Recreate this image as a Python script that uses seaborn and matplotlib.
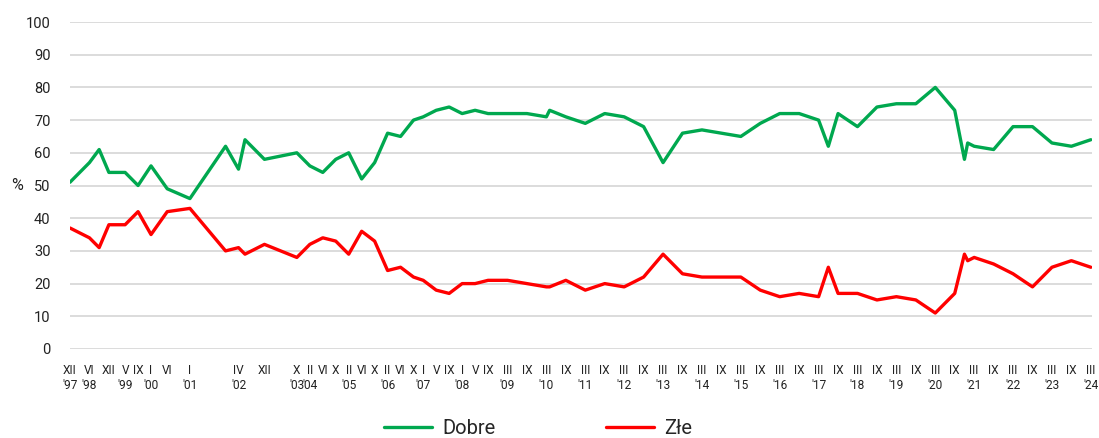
import numpy as np
import pandas as pd
import matplotlib
matplotlib.use("Agg")
import matplotlib.pyplot as plt
import seaborn as sns

# ---- data ----
survey_dates = [
    (1997, 12), (1998, 6), (1998, 9), (1998, 12), (1999, 5), (1999, 9), (2000, 1), (2000, 6),
    (2001, 1), (2001, 12), (2002, 4), (2002, 6), (2002, 12), (2003, 10), (2004, 2), (2004, 6),
    (2004, 10), (2005, 2), (2005, 6), (2005, 10), (2006, 2), (2006, 6), (2006, 10), (2007, 1),
    (2007, 5), (2007, 9), (2008, 1), (2008, 5), (2008, 9), (2009, 3), (2009, 9), (2010, 3),
    (2010, 4), (2010, 9), (2011, 3), (2011, 9), (2012, 3), (2012, 9), (2013, 3), (2013, 9),
    (2014, 3), (2014, 9), (2015, 3), (2015, 9), (2016, 3), (2016, 9), (2017, 3), (2017, 6),
    (2017, 9), (2018, 3), (2018, 9), (2019, 3), (2019, 9), (2020, 3), (2020, 9), (2020, 12),
    (2021, 1), (2021, 3), (2021, 9), (2022, 3), (2022, 9), (2023, 3), (2023, 9), (2024, 3),
]

dobre = [51, 57, 61, 54, 54, 50, 56, 49, 46, 62, 55, 64, 58, 60, 56, 54,
         58, 60, 52, 57, 66, 65, 70, 71, 73, 74, 72, 73, 72, 72, 72, 71,
         73, 71, 69, 72, 71, 68, 57, 66, 67, 66, 65, 69, 72, 72, 70, 62,
         72, 68, 74, 75, 75, 80, 73, 58, 63, 62, 61, 68, 68, 63, 62, 64]

zle = [37, 34, 31, 38, 38, 42, 35, 42, 43, 30, 31, 29, 32, 28, 32, 34,
       33, 29, 36, 33, 24, 25, 22, 21, 18, 17, 20, 20, 21, 21, 20, 19,
       19, 21, 18, 20, 19, 22, 29, 23, 22, 22, 22, 18, 16, 17, 16, 25,
       17, 17, 15, 16, 15, 11, 17, 29, 27, 28, 26, 23, 19, 25, 27, 25]

tick_dates = [
    (1997, 12), (1998, 6), (1998, 12), (1999, 5), (1999, 9), (2000, 1), (2000, 6), (2001, 1),
    (2002, 4), (2002, 12), (2003, 10), (2004, 2), (2004, 6), (2004, 10), (2005, 2), (2005, 6),
    (2005, 10), (2006, 2), (2006, 6), (2006, 10), (2007, 1), (2007, 5), (2007, 9), (2008, 1),
    (2008, 5), (2008, 9), (2009, 3), (2009, 9), (2010, 3), (2010, 9), (2011, 3), (2011, 9),
    (2012, 3), (2012, 9), (2013, 3), (2013, 9), (2014, 3), (2014, 9), (2015, 3), (2015, 9),
    (2016, 3), (2016, 9), (2017, 3), (2017, 9), (2018, 3), (2018, 9), (2019, 3), (2019, 9),
    (2020, 3), (2020, 9), (2021, 3), (2021, 9), (2022, 3), (2022, 9), (2023, 3), (2023, 9),
    (2024, 3),
]
tick_labels = [
    "XII\n'97", "VI\n'98", "XII", "V\n'99", "IX", "I\n'00", "VI", "I\n'01",
    "IV\n'02", "XII", "X\n'03", "II\n'04", "VI", "X", "II\n'05", "VI",
    "X", "II\n'06", "VI", "X", "I\n'07", "V", "IX", "I\n'08",
    "V", "IX", "III\n'09", "IX", "III\n'10", "IX", "III\n'11", "IX",
    "III\n'12", "IX", "III\n'13", "IX", "III\n'14", "IX", "III\n'15", "IX",
    "III\n'16", "IX", "III\n'17", "IX", "III\n'18", "IX", "III\n'19", "IX",
    "III\n'20", "IX", "III\n'21", "IX", "III\n'22", "IX", "III\n'23", "IX",
    "III\n'24",
]
series_names = ["Dobre", "Złe"]
colors = ["#00A84F", "#FF0000"]
y_ticks = list(range(0, 101, 10))


def to_num(d):
    return d[0] + (d[1] - 1) / 12.0


x_num = [to_num(d) for d in survey_dates]
df = pd.DataFrame({
    "t": x_num * 2,
    "v": dobre + zle,
    "s": [series_names[0]] * len(dobre) + [series_names[1]] * len(zle),
})

sns.set_theme(style="white")
plt.rcParams["font.family"] = ["Roboto", "DejaVu Sans"]

fig = plt.figure(figsize=(10.99, 4.38), dpi=100)
ax = fig.add_axes([70 / 1099, 89 / 438, 1022 / 1099, 327 / 438])

sns.lineplot(data=df, x="t", y="v", hue="s", palette=colors, linewidth=2.4,
             ax=ax, legend=False, sort=False, estimator=None)

ax.set_xlim(to_num((1997, 12)), to_num((2024, 3)) + 0.03)
ax.set_ylim(0, 100)
ax.set_yticks(y_ticks)
ax.set_yticklabels([str(v) for v in y_ticks], fontsize=10.5, color="#222222")
ax.set_xticks([to_num(d) for d in tick_dates])
ax.set_xticklabels(tick_labels, fontsize=8.6, color="#222222", linespacing=1.2)
ax.tick_params(axis="y", length=0, pad=14)
ax.tick_params(axis="x", length=0, pad=11)
ax.yaxis.grid(True, color="#d9d9d9", linewidth=1.3)
ax.xaxis.grid(False)
for sp in ax.spines.values():
    sp.set_visible(False)
ax.set_xlabel("")
ax.set_ylabel("")

fig.text(17 / 1099, 1 - 186 / 438, "%", fontsize=11.5, ha="center", va="center", color="#222222")

handles = [plt.Line2D([], [], color=c, linewidth=2.4) for c in colors]
fig.legend(handles, series_names, loc="center", bbox_to_anchor=(538 / 1099, 1 - 429 / 438),
           ncol=2, frameon=False, fontsize=14.5, handlelength=2.4, handletextpad=0.5,
           columnspacing=5.45, borderpad=0.2)

fig.savefig("out.png", dpi=100)
